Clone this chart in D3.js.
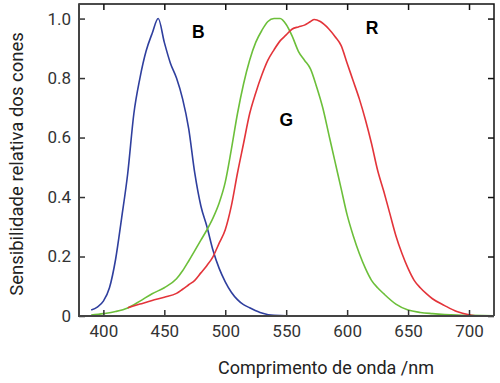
<!DOCTYPE html>
<html>
<head>
<meta charset="utf-8">
<script src="https://cdn.jsdelivr.net/npm/d3@7"></script>
<style>
  body { margin: 0; background: #fff; }
  svg { display: block; }
  .tick text { font-family: Roboto, "DejaVu Sans", sans-serif; }
</style>
</head>
<body>
<svg id="chart" width="500" height="383"></svg>
<script>
// cone sensitivity curves
const blueNm  = [390, 395, 400, 405, 410, 415, 420, 425, 430, 435, 440, 445, 450, 455, 460, 465, 470, 475, 480, 485, 490, 495, 500, 505, 510, 515, 520, 530, 540, 560, 600, 650, 700, 720];
const blueVal = [0.02, 0.03, 0.05, 0.095, 0.19, 0.33, 0.48, 0.68, 0.80, 0.89, 0.95, 1.0, 0.92, 0.85, 0.80, 0.73, 0.63, 0.48, 0.37, 0.30, 0.22, 0.16, 0.115, 0.08, 0.055, 0.038, 0.028, 0.01, 0.002, 0, 0, 0, 0, 0];

const greenNm  = [390, 400, 410, 420, 430, 440, 450, 460, 465, 470, 475, 480, 485, 490, 495, 500, 505, 510, 515, 520, 525, 530, 535, 540, 545, 550, 555, 560, 565, 570, 575, 580, 585, 590, 595, 600, 605, 610, 615, 620, 625, 630, 640, 650, 660, 670, 680, 690, 700, 720];
const greenVal = [0.003, 0.008, 0.015, 0.027, 0.05, 0.075, 0.095, 0.125, 0.152, 0.185, 0.22, 0.255, 0.29, 0.33, 0.38, 0.45, 0.56, 0.68, 0.78, 0.86, 0.92, 0.96, 0.99, 1.0, 1.0, 0.98, 0.94, 0.89, 0.86, 0.83, 0.77, 0.70, 0.61, 0.52, 0.43, 0.34, 0.27, 0.21, 0.16, 0.12, 0.095, 0.075, 0.04, 0.02, 0.012, 0.008, 0.005, 0.003, 0.002, 0.001];

const redNm  = [420, 430, 440, 450, 460, 465, 470, 475, 480, 485, 490, 495, 500, 505, 510, 515, 520, 525, 530, 535, 540, 545, 550, 555, 560, 565, 570, 573, 578, 585, 590, 595, 600, 605, 610, 615, 620, 625, 630, 635, 640, 645, 650, 655, 660, 665, 670, 680, 690, 700, 705];
const redVal = [0.028, 0.04, 0.052, 0.063, 0.076, 0.09, 0.105, 0.12, 0.145, 0.17, 0.20, 0.245, 0.29, 0.37, 0.48, 0.58, 0.68, 0.75, 0.81, 0.86, 0.895, 0.925, 0.945, 0.965, 0.972, 0.978, 0.99, 0.997, 0.99, 0.965, 0.94, 0.91, 0.85, 0.79, 0.73, 0.66, 0.58, 0.49, 0.42, 0.345, 0.27, 0.21, 0.16, 0.12, 0.095, 0.075, 0.058, 0.035, 0.015, 0.004, 0.001];

const xTicks = [400, 450, 500, 550, 600, 650, 700];
const yTicks = [0, 0.2, 0.4, 0.6, 0.8, 1.0];

const series = [
    { name: 'B', nm: blueNm, val: blueVal, color: '#2f3f9e', label: [478, 0.95] },
    { name: 'G', nm: greenNm, val: greenVal, color: '#6cbf3a', label: [550, 0.655] },
    { name: 'R', nm: redNm, val: redVal, color: '#e3343a', label: [620.5, 0.965] },
];

const svg = d3.select('#chart');
const margin = { left: 79, top: 4, right: 6, bottom: 67 };
const plotW = 500 - margin.left - margin.right;
const plotH = 383 - margin.top - margin.bottom;

const x = d3.scaleLinear().domain([380, 720.5]).range([0, plotW]);
const y = d3.scaleLinear().domain([0, 1.049]).range([plotH, 0]);

const g = svg.append('g').attr('transform', `translate(${margin.left},${margin.top})`);

// curves first, frame on top
const line = d3.line()
    .x(d => x(d[0]))
    .y(d => y(d[1]))
    .curve(d3.curveMonotoneX);

series.forEach(s => {
    g.append('path')
        .datum(s.nm.map((n, i) => [n, s.val[i]]))
        .attr('d', line)
        .attr('fill', 'none')
        .attr('stroke', s.color)
        .attr('stroke-width', 1.6);
    g.append('text')
        .attr('x', x(s.label[0]))
        .attr('y', y(s.label[1]))
        .attr('text-anchor', 'middle')
        .attr('dominant-baseline', 'middle')
        .style('font-family', '"Liberation Sans", Arial, sans-serif')
        .style('font-weight', 'bold')
        .style('font-size', '17.5px')
        .text(s.name);
});

const tickLen = 6;

const styleAxis = (sel, color) => {
    sel.select('.domain').remove();
    sel.selectAll('.tick line').attr('stroke', color).attr('stroke-width', 1.5);
    sel.selectAll('.tick text')
        .style('font-size', '17px')
        .attr('fill', '#333');
};

const axisB = g.append('g')
    .attr('transform', `translate(0,${plotH})`)
    .call(d3.axisBottom(x).tickValues(xTicks).tickSizeInner(-tickLen).tickSizeOuter(0).tickPadding(9));
styleAxis(axisB, '#333');

const axisL = g.append('g')
    .call(d3.axisLeft(y).tickValues(yTicks).tickSizeInner(-tickLen).tickSizeOuter(0).tickPadding(8)
        .tickFormat(d => d === 0 ? '0' : d3.format('.1f')(d)));
styleAxis(axisL, '#333');

const axisT = g.append('g')
    .call(d3.axisTop(x).tickValues(xTicks).tickSizeInner(-tickLen).tickSizeOuter(0).tickFormat(''));
styleAxis(axisT, '#111');

const axisR = g.append('g')
    .attr('transform', `translate(${plotW},0)`)
    .call(d3.axisRight(y).tickValues(yTicks).tickSizeInner(-tickLen).tickSizeOuter(0).tickFormat(''));
styleAxis(axisR, '#111');

// frame
g.append('path')
    .attr('d', `M0,${plotH}V0H${plotW}V${plotH}`)
    .attr('fill', 'none')
    .attr('stroke', '#111')
    .attr('stroke-width', 1.5);
g.append('path')
    .attr('d', `M0,0V${plotH}H${plotW}`)
    .attr('fill', 'none')
    .attr('stroke', '#444')
    .attr('stroke-width', 2);

// titles
svg.append('text')
    .attr('x', 326)
    .attr('y', 374)
    .attr('text-anchor', 'middle')
    .style('font-family', 'Roboto, "DejaVu Sans", sans-serif')
    .style('font-size', '18px')
    .attr('fill', '#222')
    .text('Comprimento de onda /nm');

svg.append('text')
    .attr('transform', 'translate(23,164) rotate(-90)')
    .attr('text-anchor', 'middle')
    .style('font-family', 'Roboto, "DejaVu Sans", sans-serif')
    .style('font-size', '18.5px')
    .attr('fill', '#222')
    .text('Sensibilidade relativa dos cones');
</script>
</body>
</html>
